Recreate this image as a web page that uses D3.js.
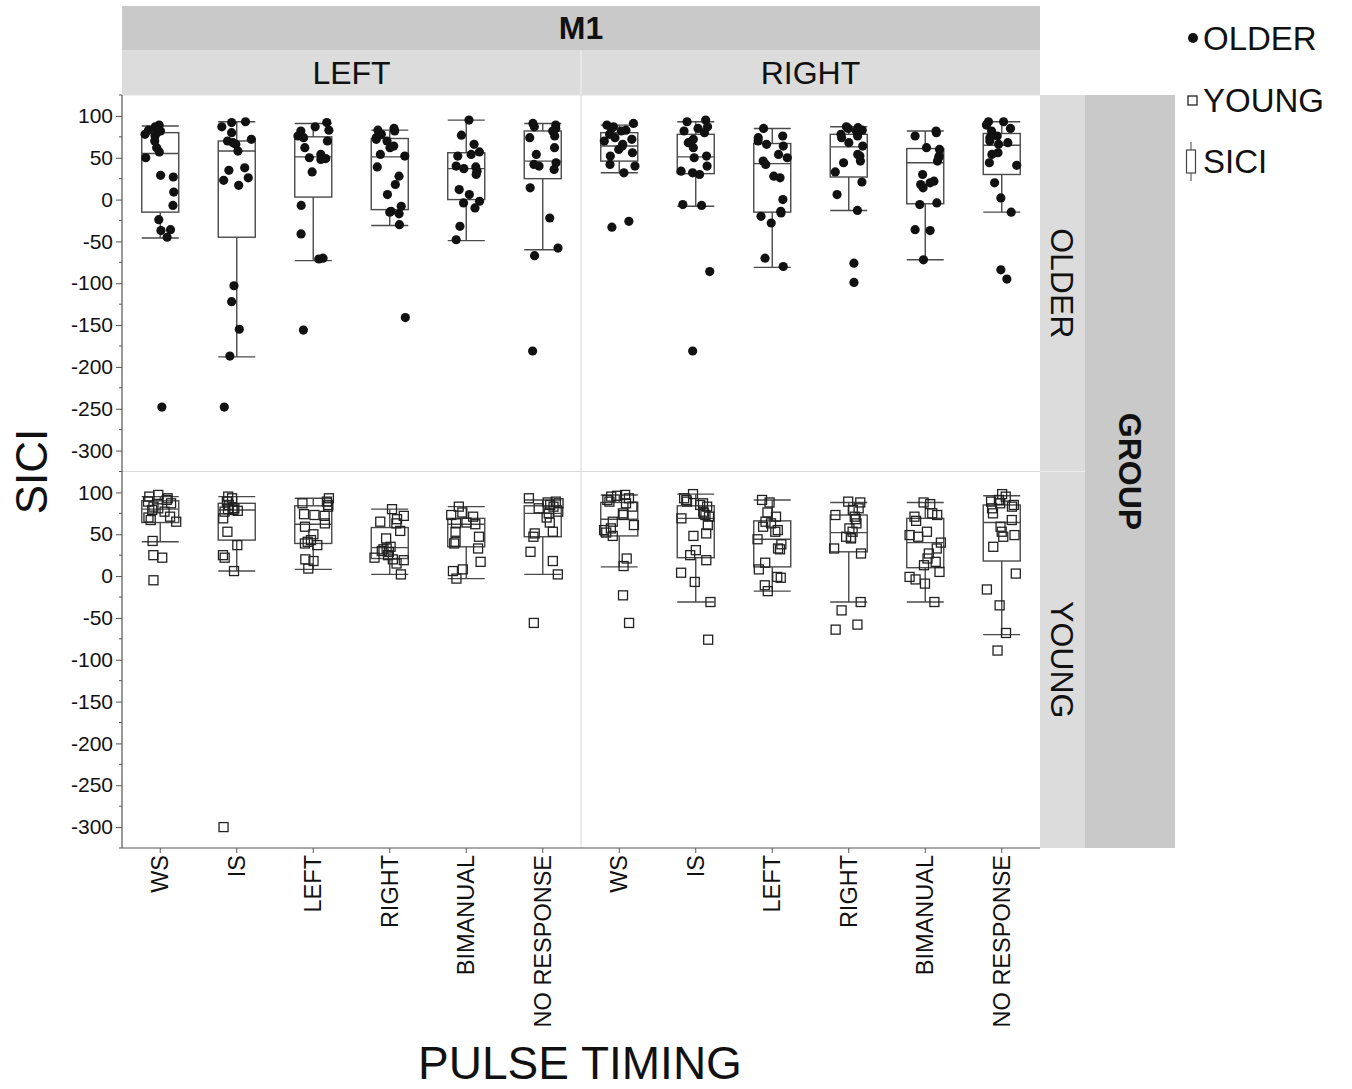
<!DOCTYPE html>
<html><head><meta charset="utf-8">
<script src="https://cdn.jsdelivr.net/npm/d3@7"></script>
<style>body{margin:0;background:#fff}svg{display:block;font-family:"Liberation Sans",Arial,Helvetica,sans-serif}</style>
</head><body><svg id="c" width="1352" height="1089"></svg>
<script>
const categories = ["WS","IS","LEFT","RIGHT","BIMANUAL","NO RESPONSE"];
const hemispheres = ["LEFT","RIGHT"];
const groups = ["OLDER","YOUNG"];
const yTicks = [100,50,0,-50,-100,-150,-200,-250,-300];

// points: [WS, IS, LEFT, RIGHT, BIMANUAL, NO RESPONSE]
const olderLeftPts = [
  [89,87,85,83,82,80,78,76,70,62,57,50,29,27,9,-7,-24,-36,-37,-45,-248],
  [93,92,87,80,72,70,68,66,58,38,35,26,23,17,-103,-122,-155,-187,-248],
  [92,87,83,82,76,74,70,62,54,50,49,48,33,-7,-41,-70,-71,-156],
  [85,83,82,78,74,72,70,64,62,54,52,39,28,18,6,-8,-14,-15,-17,-30,-141],
  [95,77,66,57,54,52,40,39,37,34,30,12,6,-2,-4,-10,-32,-48],
  [91,89,87,85,82,76,74,62,54,44,42,40,36,14,-22,-58,-67,-181]
];
const olderRightPts = [
  [91,89,87,85,83,82,78,74,72,70,66,64,60,56,52,42,40,32,-26,-33],
  [95,93,87,85,82,80,72,68,62,52,50,40,34,32,30,-6,-7,-86,-181],
  [85,76,74,70,66,64,54,50,46,42,28,26,0,-14,-16,-20,-28,-70,-80],
  [87,86,85,83,82,78,76,74,68,64,54,52,46,44,33,21,6,-13,-76,-99],
  [82,80,76,62,60,52,50,46,30,22,20,18,14,-4,-6,-36,-37,-72],
  [93,93,89,85,82,76,74,70,68,66,56,54,44,41,20,2,-15,-84,-95]
];
const youngLeftPts = [
  [97,95,93,91,89,87,83,81,79,77,71,70,67,65,42,25,22,-5],
  [95,93,89,85,81,81,80,79,78,77,69,53,37,25,22,6,-300],
  [93,89,87,85,83,74,73,72,63,59,50,43,41,39,37,20,18,9],
  [80,72,68,65,63,54,45,35,33,32,30,29,25,22,20,19,15,2],
  [83,76,73,71,64,63,62,53,47,41,39,33,17,8,6,-3],
  [93,89,88,87,85,83,81,77,75,70,64,53,51,47,29,18,2,-56]
];
const youngRightPts = [
  [97,96,95,93,91,89,87,83,75,73,65,61,57,55,52,48,21,12,-23,-56],
  [98,93,91,89,87,85,83,77,75,73,71,69,61,51,48,31,25,19,4,-7,-31,-76],
  [91,88,76,71,65,63,59,55,53,44,38,33,32,16,8,-1,-2,-11,-18],
  [89,88,81,79,73,71,68,63,57,53,47,46,45,33,27,-31,-41,-58,-64],
  [88,86,75,73,71,66,53,49,47,40,33,27,21,17,13,5,-1,-4,-9,-31],
  [98,95,91,89,87,85,83,81,75,67,59,53,49,47,35,3,-16,-35,-68,-89]
];
// box stats: [whiskerLow, q1, median, q3, whiskerHigh]
const olderLeftBox = [[-46,-15,55,80,88],[-188,-45,58,70,93],[-73,3,51,75,91],[-31,-12,51,73,83],[-49,0,37,56,95],[-60,25,46,82,91]];
const olderRightBox = [[32,46,64,80,89],[-8,31,51,78,93],[-81,-15,43,67,85],[-13,27,63,78,87],[-72,-5,44,61,82],[-15,30,65,79,93]];
const youngLeftBox = [[41,64,80,90,95],[6,43,79,87,95],[8,39,62,84,93],[2,21,34,58,80],[-3,35,62,69,83],[2,47,75,84,91]];
const youngRightBox = [[11,48,68,88,97],[-31,22,69,84,98],[-18,11,44,66,91],[-31,29,52,73,88],[-31,10,40,69,88],[-70,18,64,85,96]];

const panels = [
  {g:0,h:0,pts:olderLeftPts,box:olderLeftBox},
  {g:0,h:1,pts:olderRightPts,box:olderRightBox},
  {g:1,h:0,pts:youngLeftPts,box:youngLeftBox},
  {g:1,h:1,pts:youngRightPts,box:youngRightBox}
];

const svg = d3.select("#c");
const L = 122, R = 1040, T = 95, B = 848;
const hx = d3.scaleBand().domain(hemispheres).range([L, R]);
const gy = d3.scaleBand().domain(groups).range([T, B]);
const yFor = g => d3.scaleLinear().domain([-325,125]).range([gy(g)+gy.bandwidth(), gy(g)]);
const xFor = h => d3.scaleBand().domain(categories).range([hx(h), hx(h)+hx.bandwidth()]);

const stripDark = "#c9c9c9", stripLight = "#dcdcdc";
// strips
svg.append("rect").attr("x",L).attr("y",6).attr("width",R-L).attr("height",44).attr("fill",stripDark);
svg.append("text").attr("x",(L+R)/2).attr("y",28).attr("dy","0.35em").attr("text-anchor","middle")
  .attr("font-weight","bold").attr("font-size",32).attr("fill","#111").text("M1");
hemispheres.forEach(h=>{
  svg.append("rect").attr("x",hx(h)).attr("y",50).attr("width",hx.bandwidth()).attr("height",45).attr("fill",stripLight);
  svg.append("text").attr("x",hx(h)+hx.bandwidth()/2).attr("y",73).attr("dy","0.35em").attr("text-anchor","middle")
    .attr("font-size",32).attr("fill","#111").text(h);
});
svg.append("line").attr("x1",hx("RIGHT")).attr("x2",hx("RIGHT")).attr("y1",50).attr("y2",95).attr("stroke","#f2f2f2");
groups.forEach(g=>{
  svg.append("rect").attr("x",R).attr("y",gy(g)).attr("width",45).attr("height",gy.bandwidth()).attr("fill",stripLight);
  const cy = gy(g)+gy.bandwidth()/2;
  svg.append("text").attr("transform",`translate(${R+22},${cy}) rotate(90)`).attr("dy","0.35em").attr("text-anchor","middle")
    .attr("font-size",32).attr("fill","#111").text(g);
});
svg.append("line").attr("x1",R).attr("x2",R+45).attr("y1",gy("YOUNG")).attr("y2",gy("YOUNG")).attr("stroke","#eeeeee");
svg.append("rect").attr("x",R+45).attr("y",T).attr("width",90).attr("height",B-T).attr("fill",stripDark);
svg.append("text").attr("transform",`translate(${R+45+45},${(T+B)/2}) rotate(90)`).attr("dy","0.35em").attr("text-anchor","middle")
  .attr("font-weight","bold").attr("font-size",32).attr("fill","#111").text("GROUP");

// panel frames
svg.append("line").attr("x1",hx("RIGHT")).attr("x2",hx("RIGHT")).attr("y1",T).attr("y2",B).attr("stroke","#d9d9d9");
svg.append("line").attr("x1",L).attr("x2",R).attr("y1",gy("YOUNG")).attr("y2",gy("YOUNG")).attr("stroke","#d9d9d9");
svg.append("line").attr("x1",L).attr("x2",R).attr("y1",T).attr("y2",T).attr("stroke","#e0e0e0");

// deterministic scatter offset (integer hash), in [-0.5, 0.5]
function jit(i,k){
  let h = (i + 1) * 374761393 + (k + 7) * 668265263;
  h = (h ^ (h >>> 13)) >>> 0;
  h = Math.imul(h, 1274126177) >>> 0;
  h = (h ^ (h >>> 16)) >>> 0;
  return (h % 1000) / 999 - 0.5;
}

panels.forEach((p,pi)=>{
  const g = groups[p.g], h = hemispheres[p.h];
  const y = yFor(g), x = xFor(h);
  const bw = 37;
  const pg = svg.append("g");
  categories.forEach((c,ci)=>{
    const cx = x(c) + x.bandwidth()/2;
    const [lo,q1,md,q3,hi] = p.box[ci];
    const st = "#4a4a4a";
    pg.append("line").attr("x1",cx).attr("x2",cx).attr("y1",y(lo)).attr("y2",y(q1)).attr("stroke",st).attr("stroke-width",1.4);
    pg.append("line").attr("x1",cx).attr("x2",cx).attr("y1",y(q3)).attr("y2",y(hi)).attr("stroke",st).attr("stroke-width",1.4);
    [lo,hi].forEach(v=>pg.append("line").attr("x1",cx-bw/2).attr("x2",cx+bw/2).attr("y1",y(v)).attr("y2",y(v)).attr("stroke",st).attr("stroke-width",1.4));
    pg.append("rect").attr("x",cx-bw/2).attr("y",y(q3)).attr("width",bw).attr("height",y(q1)-y(q3))
      .attr("fill","none").attr("stroke",st).attr("stroke-width",1.4);
    pg.append("line").attr("x1",cx-bw/2).attr("x2",cx+bw/2).attr("y1",y(md)).attr("y2",y(md)).attr("stroke",st).attr("stroke-width",1.4);
    p.pts[ci].forEach((v,i)=>{
      const px = cx + jit(i, ci+pi*6) * 32;
      if (p.g===0) {
        pg.append("circle").attr("cx",px).attr("cy",y(v)).attr("r",4.6).attr("fill","#111");
      } else {
        pg.append("rect").attr("x",px-4.5).attr("y",y(v)-4.5).attr("width",9).attr("height",9)
          .attr("fill","none").attr("stroke","#222").attr("stroke-width",1.3);
      }
    });
  });
});

// y axes
groups.forEach(g=>{
  const y = yFor(g);
  const ax = svg.append("g").attr("transform",`translate(${L},0)`)
    .call(d3.axisLeft(y).tickValues(yTicks).tickSize(6).tickPadding(3).tickFormat(d=>String(d)));
  ax.select(".domain").remove();
  ax.selectAll("text").attr("font-size",21).attr("fill","#111").attr("font-family","Liberation Sans, Arial, sans-serif");
  ax.selectAll("line").attr("stroke","#555");
  const minor = d3.range(-325,126,25).filter(v=>v%50!==0);
  svg.append("g").selectAll("line").data(minor).join("line")
    .attr("x1",L-3).attr("x2",L).attr("y1",d=>y(d)).attr("y2",d=>y(d)).attr("stroke","#555");
});
svg.append("line").attr("x1",L).attr("x2",L).attr("y1",T).attr("y2",B).attr("stroke","#555").attr("stroke-width",1.2);
// x axes
hemispheres.forEach(h=>{
  const x = xFor(h);
  const ax = svg.append("g").attr("transform",`translate(0,${B})`).call(d3.axisBottom(x).tickSize(5).tickSizeOuter(0));
  ax.select(".domain").remove();
  ax.selectAll("line").attr("stroke","#555");
  ax.selectAll("text").attr("font-size",23.5).attr("fill","#111").attr("font-family","Liberation Sans, Arial, sans-serif")
    .attr("text-anchor","end").attr("transform","rotate(-90)").attr("x",-7).attr("y",0).attr("dy","0.35em");
});
svg.append("line").attr("x1",L).attr("x2",R).attr("y1",B).attr("y2",B).attr("stroke","#555").attr("stroke-width",1.2);

// titles
svg.append("text").attr("transform",`translate(32,${(T+B)/2}) rotate(-90)`).attr("dy","0.35em").attr("text-anchor","middle")
  .attr("font-size",44).attr("fill","#111").text("SICI");
svg.append("text").attr("x",580).attr("y",1063).attr("dy","0.35em").attr("text-anchor","middle")
  .attr("font-size",46).attr("fill","#111").text("PULSE TIMING");

// legend
const lg = svg.append("g");
lg.append("circle").attr("cx",1193).attr("cy",38).attr("r",5).attr("fill","#111");
lg.append("text").attr("x",1203).attr("y",38).attr("dy","0.35em").attr("font-size",33).attr("fill","#111").text("OLDER");
lg.append("rect").attr("x",1188).attr("y",96).attr("width",9).attr("height",9).attr("fill","none").attr("stroke","#222").attr("stroke-width",1.3);
lg.append("text").attr("x",1203).attr("y",100).attr("dy","0.35em").attr("font-size",33).attr("fill","#111").text("YOUNG");
lg.append("line").attr("x1",1191).attr("x2",1191).attr("y1",142).attr("y2",181).attr("stroke","#444");
lg.append("rect").attr("x",1186.5).attr("y",150).attr("width",9).attr("height",23).attr("fill","#fff").attr("stroke","#444").attr("stroke-width",1.2);
lg.append("text").attr("x",1203).attr("y",161).attr("dy","0.35em").attr("font-size",33).attr("fill","#111").text("SICI");
</script></body></html>
